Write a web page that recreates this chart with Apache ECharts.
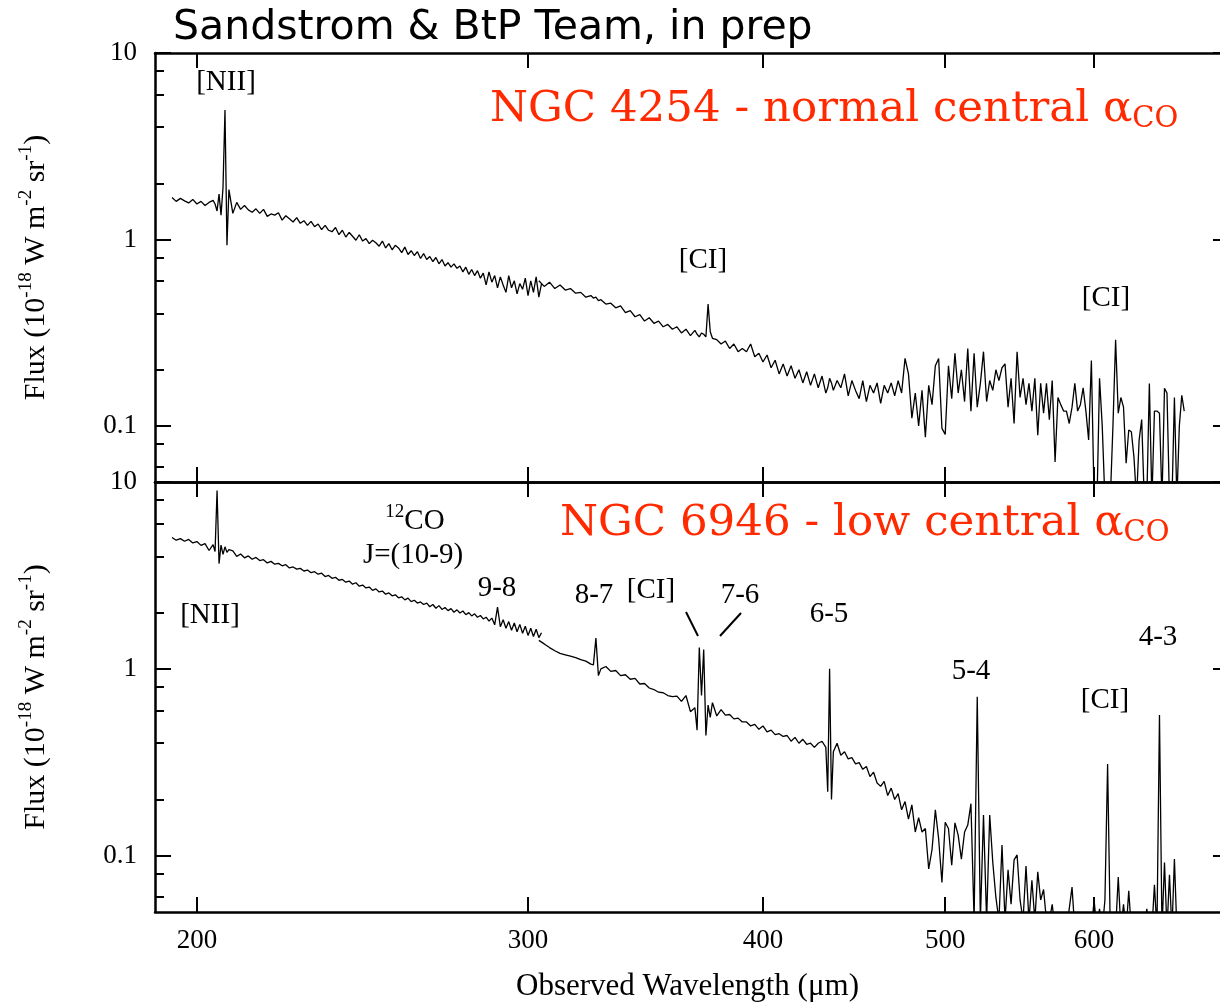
<!DOCTYPE html>
<html>
<head>
<meta charset="utf-8">
<title>SPIRE FTS spectra</title>
<script src="https://cdn.jsdelivr.net/npm/echarts@6/dist/echarts.min.js"></script>
<style>
  html, body { margin: 0; padding: 0; background: #fff; }
  #chart { width: 1220px; height: 1004px; }
</style>
</head>
<body>
<div id="chart"></div>
<script>
// wavelength grids (micron): short (SSW) and long (SLW) arrays, a bit finer near the lines
const sswWave = [194,195,196,197,198,199,200,201,202,203,
  204,204.5,205,205.5,206,206.5,207,207.5,208,209,
  210,211,212,213,214,215,216,217,218,219,
  220,221,222,223,224,225,226,227,228,229,
  230,231,232,233,234,235,236,237,238,239,
  240,241,242,243,244,245,246,247,248,249,
  250,251,252,253,254,255,256,257,258,259,
  260,261,262,263,264,265,266,267,268,269,
  270,271,272,273,274,275,276,277,278,279,
  280,281,282,283,284,285,286,287,288,289,
  290,291,292,293,294,295,296,297,298,299,
  300,301,302,303,304,305];
const slwWave = [304,306,308,310,312,314,316,318,320,322,
  324,325,326,327,328,330,332,334,336,338,
  340,342,344,346,348,350,352,354,356,358,
  360,362,364,366,368,369,370,371,372,373,
  374,375,376,378,380,382,384,386,388,390,
  392,394,396,398,400,402,404,406,408,410,
  412,414,416,418,420,422,424,426,428,430,
  432,433,434,435,436,438,440,442,444,446,
  448,450,452,454,456,458,460,462,464,466,
  468,470,472,474,476,478,480,482,484,486,
  488,490,492,494,496,498,500,502,504,506,
  508,510,512,514,516,518,520,522,524,526,
  528,530,532,534,536,538,540,542,544,546,
  548,550,552,554,556,558,560,562,564,566,
  568,570,572,574,576,578,580,582,584,586,
  588,590,592,594,596,598,600,602,604,606,
  608,610,612,614,616,618,620,622,624,626,
  628,630,632,634,636,638,640,642,644,646,
  648,650,652,654,656,658,660,662,664,666,
  668,670];

// NGC 4254 flux (1e-18 W m-2 sr-1)
const n4254Ssw = [1.68,1.60,1.66,1.61,1.57,1.64,1.55,1.60,1.52,1.58,
  1.62,1.55,1.42,1.75,1.35,1.90,4.95,0.93,1.85,1.38,
  1.58,1.45,1.52,1.44,1.40,1.46,1.38,1.45,1.33,1.37,
  1.35,1.39,1.27,1.34,1.29,1.24,1.31,1.22,1.26,1.19,
  1.25,1.17,1.21,1.13,1.19,1.12,1.10,1.16,1.06,1.12,
  1.03,1.09,1.04,0.99,1.06,0.98,1.01,0.95,0.99,0.96,
  0.92,0.98,0.90,0.95,0.88,0.93,0.90,0.85,0.91,0.83,
  0.87,0.82,0.86,0.79,0.84,0.78,0.81,0.76,0.80,0.74,
  0.78,0.72,0.75,0.71,0.74,0.70,0.72,0.67,0.71,0.65,
  0.69,0.64,0.68,0.62,0.66,0.57,0.67,0.59,0.64,0.55,
  0.63,0.57,0.52,0.64,0.55,0.60,0.51,0.58,0.54,0.62,
  0.50,0.60,0.52,0.63,0.49,0.58];
const n4254Slw = [0.60,0.56,0.59,0.545,0.57,0.535,0.545,0.515,0.52,0.49,
  0.50,0.485,0.49,0.47,0.475,0.45,0.455,0.43,0.44,0.405,
  0.415,0.385,0.395,0.365,0.38,0.355,0.365,0.34,0.35,0.33,
  0.34,0.315,0.33,0.305,0.325,0.31,0.30,0.315,0.31,0.30,
  0.45,0.32,0.295,0.29,0.275,0.285,0.26,0.275,0.25,0.26,
  0.25,0.275,0.235,0.245,0.22,0.24,0.205,0.225,0.19,0.215,
  0.185,0.21,0.18,0.20,0.17,0.195,0.165,0.19,0.16,0.185,
  0.15,0.16,0.18,0.17,0.155,0.175,0.16,0.19,0.145,0.175,
  0.155,0.14,0.175,0.135,0.165,0.15,0.17,0.132,0.165,0.15,
  0.17,0.145,0.175,0.15,0.23,0.19,0.11,0.15,0.10,0.155,
  0.087,0.165,0.13,0.21,0.23,0.097,0.09,0.21,0.14,0.245,
  0.15,0.20,0.135,0.26,0.12,0.245,0.126,0.169,0.25,0.135,
  0.175,0.155,0.20,0.175,0.205,0.215,0.126,0.18,0.103,0.25,
  0.142,0.18,0.13,0.169,0.12,0.18,0.089,0.169,0.117,0.169,
  0.108,0.175,0.064,0.142,0.13,0.12,0.12,0.103,0.126,0.169,
  0.12,0.13,0.16,0.12,0.084,0.224,0.04,0.035,0.18,0.10,
  0.04,0.035,0.04,0.10,0.29,0.117,0.142,0.126,0.063,0.095,
  0.093,0.068,0.04,0.084,0.108,0.04,0.04,0.169,0.04,0.12,
  0.12,0.117,0.04,0.159,0.15,0.04,0.04,0.142,0.04,0.10,
  0.146,0.12];

// NGC 6946 flux
const n6946Ssw = [5.05,4.88,4.98,4.82,4.93,4.72,4.80,4.58,4.68,4.30,
  4.62,4.25,9.0,3.66,4.60,4.10,4.50,4.20,4.35,4.28,
  4.00,4.12,3.93,4.02,3.86,3.95,3.80,3.84,3.69,3.76,
  3.63,3.67,3.56,3.61,3.47,3.51,3.42,3.45,3.34,3.38,
  3.27,3.31,3.21,3.25,3.12,3.16,3.05,3.09,2.98,3.01,
  2.91,2.95,2.84,2.89,2.77,2.81,2.71,2.74,2.63,2.68,
  2.58,2.61,2.51,2.55,2.46,2.49,2.40,2.43,2.34,2.39,
  2.29,2.33,2.25,2.28,2.21,2.25,2.15,2.21,2.11,2.18,
  2.08,2.13,2.05,2.10,2.01,2.07,1.99,2.04,1.95,2.00,
  1.92,1.97,1.89,1.93,1.85,1.89,1.80,1.87,1.72,2.14,
  1.68,1.83,1.65,1.79,1.61,1.76,1.58,1.73,1.55,1.69,
  1.51,1.65,1.49,1.63,1.47,1.56];
const n6946Slw = [1.42,1.36,1.30,1.25,1.21,1.19,1.17,1.15,1.12,1.10,
  1.06,1.05,1.46,0.92,1.00,1.03,0.97,0.98,0.92,0.93,
  0.88,0.89,0.83,0.835,0.79,0.775,0.75,0.745,0.72,0.71,
  0.715,0.67,0.72,0.59,0.62,0.47,1.30,0.72,1.27,0.44,
  0.64,0.55,0.66,0.56,0.605,0.565,0.57,0.54,0.545,0.52,
  0.52,0.495,0.505,0.475,0.495,0.46,0.47,0.445,0.45,0.435,
  0.44,0.41,0.43,0.40,0.42,0.395,0.40,0.38,0.40,0.41,
  0.38,0.22,1.0,0.20,0.36,0.40,0.345,0.36,0.33,0.335,
  0.31,0.315,0.29,0.30,0.265,0.28,0.245,0.235,0.25,0.21,
  0.23,0.20,0.215,0.176,0.195,0.157,0.187,0.134,0.16,0.134,
  0.14,0.085,0.108,0.176,0.123,0.072,0.151,0.14,0.089,0.15,
  0.129,0.096,0.134,0.146,0.19,0.045,0.71,0.045,0.165,0.045,
  0.165,0.092,0.06,0.045,0.114,0.045,0.084,0.055,0.095,0.101,
  0.058,0.045,0.088,0.045,0.074,0.045,0.082,0.058,0.066,0.045,
  0.045,0.055,0.04,0.04,0.04,0.04,0.04,0.052,0.068,0.04,
  0.04,0.04,0.04,0.04,0.04,0.04,0.058,0.04,0.052,0.04,
  0.058,0.31,0.04,0.04,0.04,0.077,0.04,0.055,0.04,0.065,
  0.04,0.04,0.04,0.04,0.04,0.04,0.052,0.04,0.04,0.07,
  0.04,0.567,0.04,0.092,0.04,0.079,0.04,0.096,0.04,0.04,
  0.04,0.04];

const xTicks = [200, 300, 400, 500, 600];
const yMajor = [0.1, 1, 10];
const yMinor = [0.06, 0.08, 0.2, 0.4, 0.6, 0.8, 2, 4, 6, 8];

const serif = '"Liberation Serif", "Times New Roman", serif';
const wideSerif = '"DejaVu Serif", serif';
const red = '#ff2a00';

function pairs(w, f) {
  return w.map((x, i) => [x, f[i]]);
}

function xAx(grid, pos, labels) {
  return {
    type: 'log', gridIndex: grid, position: pos, min: 190, max: 700,
    axisLine: {show: true, onZero: false, lineStyle: {color: '#000', width: 2.5}},
    axisTick: {show: true, inside: true, length: 15, customValues: xTicks,
      lineStyle: {color: '#000', width: 2}},
    axisLabel: {show: labels, customValues: xTicks, margin: 15, color: '#000',
      fontFamily: serif, fontSize: 27, formatter: v => String(Math.round(v))},
    splitLine: {show: false},
    minorTick: {show: false}
  };
}

function yAx(grid, pos, kind) {
  const major = kind === 'major';
  return {
    type: 'log', gridIndex: grid, position: pos, min: 0.05, max: 10,
    axisLine: {show: major && pos === 'left', lineStyle: {color: '#000', width: 2.5}},
    axisTick: {show: true, inside: true,
      length: kind === 'minor' ? 9 : (pos === 'right' ? 7 : 16),
      customValues: kind === 'minor' ? yMinor : yMajor,
      lineStyle: {color: '#000', width: 2}},
    axisLabel: {show: major && pos === 'left', customValues: yMajor, margin: 18,
      color: '#000', fontFamily: serif, fontSize: 27,
      formatter: v => (v >= 1 ? String(Math.round(v)) : String(+v.toFixed(1)))},
    splitLine: {show: false},
    minorTick: {show: false}
  };
}

const fluxName = '{n|Flux (10}{s|-18}{n| W m}{s|-2}{n| sr}{s|-1}{n|)}';
const fluxStyle = {
  fontFamily: serif, fontSize: 30, color: '#000',
  rich: {
    n: {fontFamily: serif, fontSize: 30, lineHeight: 38, color: '#000'},
    s: {fontFamily: serif, fontSize: 19, lineHeight: 19, verticalAlign: 'top', color: '#000'}
  }
};

function withName(ax) {
  ax.name = fluxName;
  ax.nameLocation = 'middle';
  ax.nameRotate = 90;
  ax.nameGap = 100;
  ax.nameTextStyle = fluxStyle;
  return ax;
}

function label(x, y, text) {
  return {type: 'text', x: x, y: y,
    style: {text: text, fill: '#000', font: '29px ' + serif, align: 'center', verticalAlign: 'middle'}};
}

function redTitle(x, y, text) {
  return {type: 'text', x: x, y: y,
    style: {
      text: '{m|' + text + '}{s|CO}', align: 'left', verticalAlign: 'middle',
      rich: {
        m: {fontSize: 43.5, fontFamily: wideSerif, fill: red, color: red, lineHeight: 48},
        s: {fontSize: 29, fontFamily: wideSerif, fill: red, color: red, lineHeight: 31, verticalAlign: 'bottom'}
      }
    }};
}

const lineStyle = {color: '#000', width: 1.3};
function spec(name, xi, yi, w, f) {
  return {
    name: name, type: 'line', xAxisIndex: xi, yAxisIndex: yi,
    data: pairs(w, f), showSymbol: false, symbol: 'none',
    lineStyle: lineStyle, clip: true, silent: true
  };
}

const chart = echarts.init(document.getElementById('chart'), null, {renderer: 'canvas'});

const xName = {
  name: 'Observed Wavelength (μm)', nameLocation: 'middle', nameGap: 59,
  nameTextStyle: {fontFamily: serif, fontSize: 31, color: '#000'}
};

chart.setOption({
  animation: false,
  backgroundColor: '#fff',
  grid: [
    {left: 155, right: 0, top: 53, height: 429},
    {left: 155, right: 0, top: 482, height: 430}
  ],
  xAxis: [
    xAx(0, 'bottom', false),
    xAx(0, 'top', false),
    Object.assign(xAx(1, 'bottom', true), xName),
    xAx(1, 'top', false)
  ],
  yAxis: [
    withName(yAx(0, 'left', 'major')),
    yAx(0, 'left', 'minor'),
    yAx(0, 'right', 'rmajor'),
    withName(yAx(1, 'left', 'major')),
    yAx(1, 'left', 'minor'),
    yAx(1, 'right', 'rmajor')
  ],
  series: [
    spec('NGC 4254 SSW', 0, 0, sswWave, n4254Ssw),
    spec('NGC 4254 SLW', 0, 0, slwWave, n4254Slw),
    spec('NGC 6946 SSW', 2, 3, sswWave, n6946Ssw),
    spec('NGC 6946 SLW', 2, 3, slwWave, n6946Slw)
  ],
  graphic: [
    {type: 'text', x: 173, y: 28,
      style: {text: 'Sandstrom & BtP Team, in prep', fill: '#000',
        font: '41px "DejaVu Sans"', align: 'left', verticalAlign: 'middle'}},
    redTitle(490, 110, 'NGC 4254 - normal central α'),
    redTitle(560, 524, 'NGC 6946 - low central α'),
    // line labels, top panel
    label(226, 82, '[NII]'),
    label(703, 260, '[CI]'),
    label(1106, 298, '[CI]'),
    // line labels, bottom panel
    label(210, 615, '[NII]'),
    {type: 'text', x: 415, y: 521,
      style: {text: '{s|12}{n|CO}', align: 'center', verticalAlign: 'middle',
        rich: {
          n: {fontFamily: serif, fontSize: 29, lineHeight: 36, fill: '#000', color: '#000'},
          s: {fontFamily: serif, fontSize: 19, lineHeight: 19, verticalAlign: 'top', fill: '#000', color: '#000'}
        }}},
    label(413, 555, 'J=(10-9)'),
    label(497, 588, '9-8'),
    label(594, 595, '8-7'),
    label(651, 590, '[CI]'),
    label(740, 595, '7-6'),
    label(829, 614, '6-5'),
    label(971, 671, '5-4'),
    label(1105, 700, '[CI]'),
    label(1158, 637, '4-3'),
    {type: 'line', shape: {x1: 686, y1: 612, x2: 698, y2: 636}, style: {stroke: '#000', lineWidth: 2}},
    {type: 'line', shape: {x1: 741, y1: 613, x2: 720, y2: 636}, style: {stroke: '#000', lineWidth: 2}}
  ]
});
</script>
</body>
</html>
